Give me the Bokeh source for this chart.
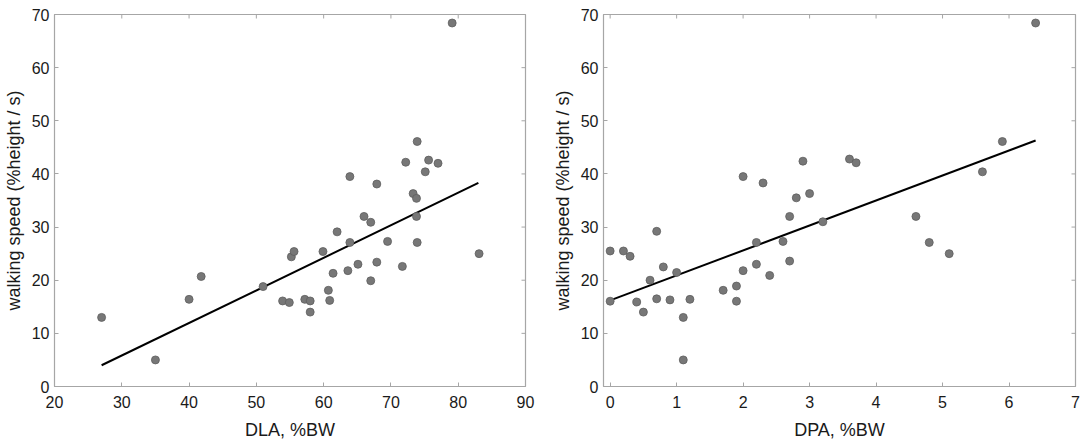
from bokeh.plotting import figure
from bokeh.layouts import row
from bokeh.models import LinearAxis, FixedTicker, Range1d
from bokeh.embed import file_html
from bokeh.resources import INLINE
import math

# ---- data ----
dla = [27.0, 35.0, 40.0, 41.8, 51.0, 53.9, 54.9, 55.2, 55.6, 57.2, 58.0, 58.0,
       59.9, 60.7, 60.9, 61.4, 62.0, 63.6, 63.9, 63.9, 65.1, 66.0, 67.0, 67.0,
       67.9, 67.9, 69.5, 71.7, 72.2, 73.3, 73.8, 73.8, 73.9, 73.9, 75.1, 75.6,
       77.0, 79.1, 83.1]
speed_dla = [13.0, 5.0, 16.4, 20.7, 18.8, 16.1, 15.8, 24.4, 25.4, 16.4, 16.1, 14.0,
             25.4, 18.1, 16.2, 21.3, 29.1, 21.8, 27.1, 39.5, 23.0, 32.0, 30.9, 19.9,
             23.4, 38.1, 27.3, 22.6, 42.2, 36.3, 35.4, 32.0, 27.1, 46.1, 40.4, 42.6,
             42.0, 68.4, 25.0]
dla_fit_x = [27.0, 83.0]
dla_fit_y = [4.0, 38.3]

dpa = [0.0, 0.0, 0.2, 0.3, 0.4, 0.5, 0.6, 0.7, 0.7, 0.8, 0.9, 1.0, 1.1, 1.1,
       1.2, 1.7, 1.9, 1.9, 2.0, 2.2, 2.2, 2.4, 2.6, 2.7, 2.7, 3.2, 4.6, 4.8,
       5.1, 2.0, 2.3, 2.8, 2.9, 3.0, 3.6, 3.7, 5.6, 5.9, 6.4]
speed_dpa = [25.5, 16.05, 25.5, 24.5, 15.9, 14.0, 20.0, 29.2, 16.5, 22.5, 16.3, 21.45, 13.0, 5.0,
             16.4, 18.1, 18.9, 16.05, 21.8, 27.1, 23.0, 20.9, 27.3, 32.0, 23.6, 31.0, 32.0, 27.1,
             25.0, 39.5, 38.3, 35.5, 42.4, 36.3, 42.8, 42.1, 40.4, 46.1, 68.4]
dpa_fit_x = [0.0, 6.4]
dpa_fit_y = [16.2, 46.3]

y_ticks = [0, 10, 20, 30, 40, 50, 60, 70]
dla_ticks = [20, 30, 40, 50, 60, 70, 80, 90]
dpa_ticks = [0, 1, 2, 3, 4, 5, 6, 7]

FONT = "Liberation Sans"
FRAME = "#a6a6a6"
TEXT = "#1a1a1a"
Y_MIN, Y_MAX = 0, 70


def make_panel(xs, ys, fx, fy, xr, xticks, xlabel, width, bl, br):
    p = figure(width=width, height=446, x_range=Range1d(*xr), y_range=Range1d(Y_MIN, Y_MAX),
               output_backend="svg", toolbar_location=None,
               min_border_left=bl, min_border_right=br, min_border_top=14,
               min_border_bottom=60, x_axis_location=None, y_axis_location=None)
    p.grid.visible = False
    p.outline_line_color = FRAME
    p.outline_line_width = 1.2
    p.background_fill_color = "white"
    p.border_fill_color = "white"

    def style(ax):
        ax.axis_line_color = None
        ax.major_tick_line_color = FRAME
        ax.major_tick_in = 4
        ax.major_tick_out = 0
        ax.minor_tick_line_color = None
        ax.major_label_text_font = FONT
        ax.major_label_text_font_size = "16px"
        ax.major_label_text_color = TEXT
        ax.axis_label_text_font = FONT
        ax.axis_label_text_font_size = "18px"
        ax.axis_label_text_font_style = "normal"
        ax.axis_label_text_color = TEXT

    xb = LinearAxis(ticker=FixedTicker(ticks=xticks), axis_label=xlabel)
    style(xb)
    xb.major_label_standoff = 9
    xb.axis_label_standoff = 9
    yl = LinearAxis(ticker=FixedTicker(ticks=y_ticks), axis_label="walking speed (%height / s)")
    style(yl)
    yl.major_label_standoff = 5
    yl.axis_label_standoff = 5
    p.add_layout(xb, "below")
    p.add_layout(yl, "left")

    # inward ticks on the top and right edges of the box (clipped to the frame)
    p.scatter(xticks, [Y_MAX] * len(xticks), marker="dash", size=8, angle=math.pi / 2,
              line_color=FRAME, line_width=1)
    p.scatter([xr[1]] * len(y_ticks), y_ticks, marker="dash", size=8,
              line_color=FRAME, line_width=1)

    p.line(fx, fy, line_color="black", line_width=2)
    p.scatter(xs, ys, size=8, fill_color="#777777", line_color="#5e5e5e", line_width=0.8)
    return p


p1 = make_panel(dla, speed_dla, dla_fit_x, dla_fit_y, (20, 90), dla_ticks, "DLA, %BW",
                54 + 471 + 20, 54, 20)
p2 = make_panel(dpa, speed_dpa, dpa_fit_x, dpa_fit_y, (-0.1, 7), dpa_ticks, "DPA, %BW",
                58 + 472 + 8, 58, 8)

layout = row(p1, p2, spacing=0)
open("out.html", "w").write(file_html(layout, INLINE))
